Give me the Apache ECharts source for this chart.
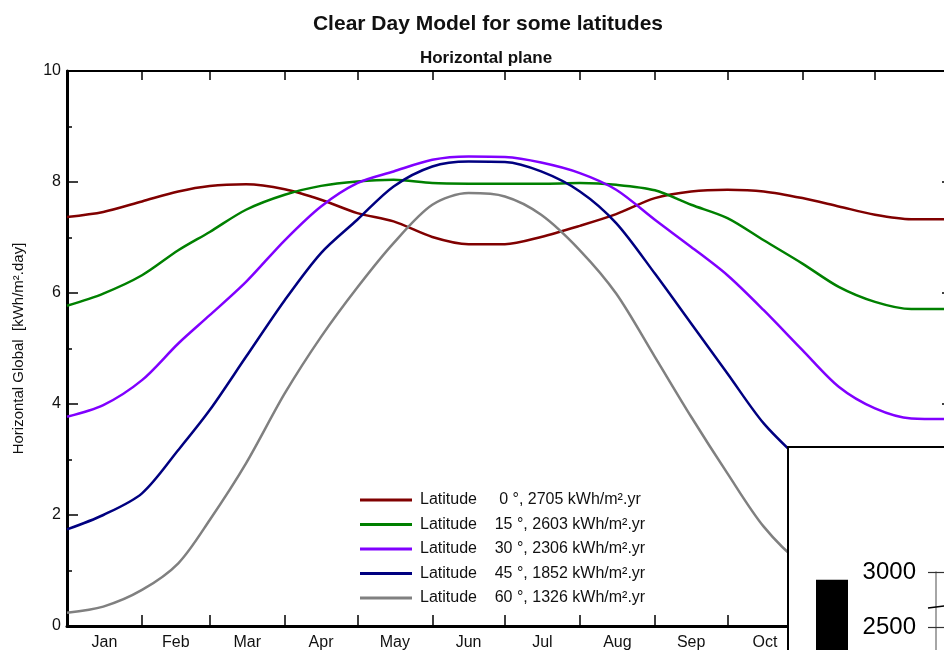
<!DOCTYPE html>
<html>
<head>
<meta charset="utf-8">
<title>Clear Day Model for some latitudes</title>
<script src="https://cdn.jsdelivr.net/npm/echarts@6.0.0/dist/echarts.min.js"></script>
<style>
html, body { margin: 0; padding: 0; background: #fff; }
#chart { width: 944px; height: 650px; }
</style>
</head>
<body>
<div id="chart"></div>
<script>
// day of year for each sample
var days = [0, 15, 31, 46, 59, 74, 90, 105, 120, 135, 151, 166, 181, 196, 212, 227, 243, 258, 273, 288, 304, 319, 334, 349, 365];

// daily global irradiation on horizontal plane, kWh/m2.day
var lat0  = [7.37, 7.46, 7.65, 7.83, 7.93, 7.96, 7.87, 7.68, 7.44, 7.29, 7.01, 6.88, 6.88, 7.01, 7.21, 7.42, 7.71, 7.83, 7.86, 7.83, 7.71, 7.56, 7.41, 7.33, 7.33];
var lat15 = [5.77, 5.99, 6.32, 6.77, 7.10, 7.50, 7.77, 7.93, 8.01, 8.04, 7.98, 7.97, 7.97, 7.97, 7.98, 7.95, 7.85, 7.59, 7.35, 6.95, 6.53, 6.11, 5.84, 5.71, 5.71];
var lat30 = [3.77, 3.98, 4.43, 5.09, 5.60, 6.20, 6.95, 7.56, 7.98, 8.19, 8.40, 8.46, 8.45, 8.35, 8.16, 7.86, 7.32, 6.83, 6.32, 5.69, 4.97, 4.31, 3.92, 3.74, 3.73];
var lat45 = [1.74, 2.00, 2.39, 3.17, 3.89, 4.85, 5.87, 6.72, 7.32, 7.92, 8.28, 8.37, 8.36, 8.19, 7.83, 7.26, 6.35, 5.45, 4.55, 3.65, 2.95, 2.35, 2.00, 1.80, 1.74];
var lat60 = [0.24, 0.35, 0.65, 1.13, 1.91, 2.93, 4.19, 5.21, 6.10, 6.90, 7.59, 7.80, 7.74, 7.41, 6.77, 5.99, 4.85, 3.77, 2.75, 1.79, 1.10, 0.70, 0.45, 0.30, 0.24];

var latitudes = [0, 15, 30, 45, 60];
var yearTotals = [2705, 2603, 2306, 1852, 1326];

var monthNames = ['Jan', 'Feb', 'Mar', 'Apr', 'May', 'Jun', 'Jul', 'Aug', 'Sep', 'Oct', 'Nov', 'Dec'];
var monthStarts = [31, 59, 90, 120, 151, 181, 212, 243, 273, 304, 334];
var monthMids = [15.5, 45, 74.5, 105, 135.5, 166, 196.5, 227.5, 258, 288.5, 319, 349.5];

// the overlapping inset in the lower right corner
var insetBar = [2930];
var insetLine = [[0, 2673], [8, 2691], [40, 2760]];

var latSeries = [lat0, lat15, lat30, lat45, lat60];
var lineColors = ['#800000', '#008000', '#8000ff', '#000080', '#808080'];

function legendName(i) {
    var lat = latitudes[i];
    var pad = lat < 10 ? '     ' : '    ';
    return 'Latitude' + pad + lat + ' \u00b0, ' + yearTotals[i] + ' kWh/m\u00b2.yr';
}

var myChart = echarts.init(document.getElementById('chart'));

var series = latitudes.map(function (lat, i) {
    return {
        name: legendName(i),
        type: 'line',
        xAxisIndex: 0,
        yAxisIndex: 0,
        data: days.map(function (d, j) { return [d, latSeries[i][j]]; }),
        symbol: 'none',
        smooth: 0.3,
        lineStyle: { color: lineColors[i], width: 2.5 },
        itemStyle: { color: lineColors[i] },
        z: 2
    };
});

series.push({
    type: 'line',
    xAxisIndex: 3,
    yAxisIndex: 3,
    data: insetLine,
    symbol: 'none',
    lineStyle: { color: '#000', width: 1.5 },
    z: 12
});
series.push({
    type: 'bar',
    xAxisIndex: 4,
    yAxisIndex: 5,
    data: insetBar,
    barWidth: '100%',
    itemStyle: { color: '#000' },
    z: 12
});

var tickLine = { color: '#000', width: 1.5 };

option = {
    animation: false,
    backgroundColor: '#fff',
    textStyle: { fontFamily: 'Liberation Sans, Arial, sans-serif' },
    title: [
        {
            text: 'Clear Day Model for some latitudes',
            left: 483,
            top: 9,
            textAlign: 'center',
            textStyle: { fontSize: 21, fontWeight: 'bold', color: '#111' }
        },
        {
            text: 'Horizontal plane',
            left: 481,
            top: 45,
            textAlign: 'center',
            textStyle: { fontSize: 17, fontWeight: 'bold', color: '#111' }
        }
    ],
    legend: {
        data: latitudes.map(function (l, i) { return legendName(i); }),
        orient: 'vertical',
        left: 355,
        top: 486,
        icon: 'rect',
        itemWidth: 52,
        itemHeight: 3,
        itemGap: 6.5,
        textStyle: { fontSize: 16, color: '#111', lineHeight: 18, padding: [0, 0, 0, 3] }
    },
    grid: [
        { left: 67, top: 71, width: 883, height: 555, outerBoundsMode: 'none' },
        { left: 788, top: 447, width: 400, height: 400, show: true, backgroundColor: '#fff', borderColor: '#000', borderWidth: 2, z: 10, outerBoundsMode: 'none' },
        { left: 928, top: 572, width: 200, height: 165, z: 11, outerBoundsMode: 'none' },
        { left: 816, top: 572, width: 32, height: 165, z: 11, outerBoundsMode: 'none' }
    ],
    xAxis: [
        {
            gridIndex: 0, type: 'value', min: 0, max: 365, position: 'bottom',
            axisLine: { onZero: false, lineStyle: { color: '#000', width: 3 } },
            axisTick: { inside: true, length: 11, customValues: monthStarts, lineStyle: tickLine },
            axisLabel: {
                customValues: monthMids, margin: 9, fontSize: 16, color: '#111',
                formatter: function (v) { return monthNames[monthMids.indexOf(v)]; }
            },
            splitLine: { show: false }
        },
        {
            gridIndex: 0, type: 'value', min: 0, max: 365, position: 'top',
            axisLine: { onZero: false, lineStyle: { color: '#000', width: 2 } },
            axisTick: { inside: true, length: 9, customValues: monthStarts, lineStyle: tickLine },
            axisLabel: { show: false },
            splitLine: { show: false }
        },
        { gridIndex: 1, type: 'value', min: 0, max: 1, show: false },
        { gridIndex: 2, type: 'value', min: 0, max: 100, show: false },
        { gridIndex: 3, type: 'category', data: ['bar'], show: false }
    ],
    yAxis: [
        {
            gridIndex: 0, type: 'value', min: 0, max: 10, interval: 2, position: 'left',
            name: 'Horizontal Global  [kWh/m\u00b2.day]',
            nameLocation: 'middle',
            nameRotate: 90,
            nameGap: 41,
            nameTextStyle: { fontSize: 15, color: '#111' },
            axisLine: { onZero: false, lineStyle: { color: '#000', width: 3 } },
            axisTick: { inside: true, length: 11, lineStyle: tickLine },
            minorTick: { show: true, splitNumber: 2, length: 5, lineStyle: tickLine },
            axisLabel: { fontSize: 16, color: '#111', margin: 6 },
            splitLine: { show: false }
        },
        {
            gridIndex: 0, type: 'value', min: 0, max: 10, interval: 2, position: 'right',
            axisLine: { onZero: false, lineStyle: { color: '#000', width: 3 } },
            axisTick: { inside: true, length: 8, lineStyle: tickLine },
            minorTick: { show: true, splitNumber: 2, length: 3, lineStyle: tickLine },
            axisLabel: { show: false },
            splitLine: { show: false }
        },
        { gridIndex: 1, type: 'value', min: 0, max: 1, show: false },
        {
            gridIndex: 2, type: 'value', min: 1500, max: 3000, interval: 500, position: 'left', offset: -8,
            axisLine: { show: true, onZero: false, lineStyle: { color: '#888', width: 1.5 } },
            axisTick: { show: true, length: 8, lineStyle: { color: '#333', width: 1.2 } },
            axisLabel: { fontSize: 24, color: '#000', margin: 20, formatter: function (v) { return String(v); } },
            splitLine: { show: false },
            z: 12
        },
        {
            gridIndex: 2, type: 'value', min: 1500, max: 3000, interval: 500, position: 'left', offset: -8,
            axisLine: { show: false },
            axisTick: { show: true, inside: true, length: 8, lineStyle: { color: '#333', width: 1.2 } },
            axisLabel: { show: false },
            splitLine: { show: false },
            z: 12
        },
        { gridIndex: 3, type: 'value', min: 1500, max: 3000, show: false }
    ],
    series: series
};

myChart.setOption(option);
</script>
</body>
</html>
